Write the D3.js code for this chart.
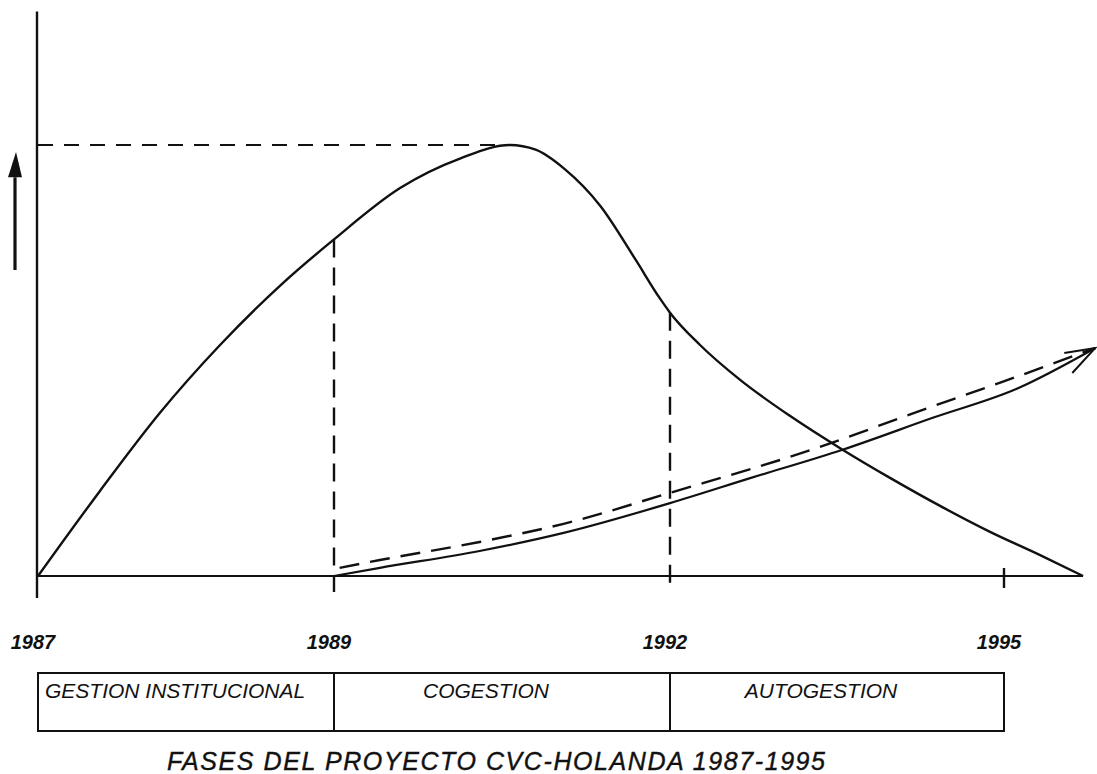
<!DOCTYPE html>
<html>
<head>
<meta charset="utf-8">
<script src="https://cdn.jsdelivr.net/npm/d3@7"></script>
<style>
  body { margin: 0; background: #fff; }
  svg { display: block; }
  text { font-family: "Liberation Sans", Arial, sans-serif; font-style: italic; fill: #111; }
</style>
</head>
<body>
<div class="chart_frame"></div>
<script>
// axis ticks (years)
var tick_years = [1987, 1989, 1992, 1995];
var tick_labels = ['1987', '1989', '1992', '1995'];

// phases under the axis
var phase_names = ['GESTION INSTITUCIONAL', 'COGESTION', 'AUTOGESTION'];
var phase_start = [1987, 1989, 1992];
var phase_end = [1989, 1992, 1995];

// main curve: institutional support (year, relative level)
var support_year = [1987.00, 1987.42, 1987.82, 1988.23, 1988.64, 1989.00, 1989.59, 1990.13, 1990.57,
                    1990.80, 1991.06, 1991.38, 1991.69, 1991.91, 1992.00, 1992.27, 1992.63, 1993.08,
                    1993.55, 1993.98, 1994.43, 1994.87, 1995.32, 1995.71];
var support_value = [0, 19.8, 37.7, 53.6, 67.5, 78.1, 90.0, 96.9, 100,
                     98.9, 94.4, 85.8, 73.5, 64.4, 61.1, 53.6, 45.5, 37.1,
                     29.3, 22.7, 16.2, 10.3, 4.9, 0];

// rising solid line: community participation
var community_year = [1989.00, 1989.41, 1990.30, 1991.05, 1992.00, 1992.72, 1993.55, 1994.36, 1995.12, 1995.82];
var community_value = [0, 1.9, 5.8, 10.0, 16.9, 22.7, 29.3, 36.7, 43.5, 52.9];

// rising dashed line
var expected_year = [1989.05, 1989.41, 1990.30, 1991.05, 1992.00, 1993.32, 1994.22, 1994.96, 1995.82];
var expected_value = [1.9, 3.7, 7.9, 12.1, 19.3, 29.7, 38.1, 44.8, 52.9];

var title_text = 'FASES DEL PROYECTO CVC-HOLANDA 1987-1995';

function plot() {
    var width = 1097, height = 774;

    var svg = d3.select('.chart_frame').append('svg')
        .attr('width', width)
        .attr('height', height);

    // years are not evenly spaced in the drawing
    var x = d3.scaleLinear()
        .domain(tick_years)
        .range([38, 334, 670, 1004]);
    var y = d3.scaleLinear()
        .domain([0, 100])
        .range([576, 145]);

    var ink = '#111';

    function zip(xs, ys) {
        return xs.map(function(d, i) { return [d, ys[i]]; });
    }
    var support = zip(support_year, support_value),
        community = zip(community_year, community_value),
        expected = zip(expected_year, expected_value);

    var line = d3.line()
        .x(function(d) { return x(d[0]); })
        .y(function(d) { return y(d[1]); })
        .curve(d3.curveMonotoneX);

    // axes
    var axis = svg.append('g').attr('class', 'axis');
    axis.append('line')
        .attr('x1', x(1987) - 1).attr('x2', x(1987) - 1)
        .attr('y1', y(131)).attr('y2', y(0) + 22)
        .attr('stroke', ink).attr('stroke-width', 2.4);
    axis.append('line')
        .attr('x1', x(1987)).attr('x2', x(1995.71))
        .attr('y1', y(0)).attr('y2', y(0))
        .attr('stroke', ink).attr('stroke-width', 2.2);
    axis.append('line')
        .attr('x1', x(1995)).attr('x2', x(1995))
        .attr('y1', y(0) - 8).attr('y2', y(0) + 12)
        .attr('stroke', ink).attr('stroke-width', 2.4);

    // arrow left of the axis
    axis.append('line')
        .attr('x1', 15).attr('x2', 15)
        .attr('y1', y(71)).attr('y2', y(92.5))
        .attr('stroke', ink).attr('stroke-width', 3.2);
    axis.append('path')
        .attr('d', 'M' + 16 + ',' + y(98.4) + 'L' + 8 + ',' + y(92.5) + 'L' + 22 + ',' + y(92.5) + 'Z')
        .attr('fill', ink);

    // peak guide
    var peak = support[d3.maxIndex(support, function(d) { return d[1]; })];
    svg.append('line')
        .attr('x1', x(1987)).attr('x2', x(peak[0]))
        .attr('y1', y(peak[1])).attr('y2', y(peak[1]))
        .attr('stroke', ink).attr('stroke-width', 2.2)
        .attr('stroke-dasharray', '15,11');

    // phase limits as dashed verticals from the curve
    function support_at(year) {
        for (var i = 0; i < support.length; i++) {
            if (Math.abs(support[i][0] - year) < 0.02) return support[i][1];
        }
        return 0;
    }
    [1989, 1992].forEach(function(yr) {
        svg.append('line')
            .attr('x1', x(yr)).attr('x2', x(yr))
            .attr('y1', y(support_at(yr))).attr('y2', y(0) + 16)
            .attr('stroke', ink).attr('stroke-width', 2.4)
            .attr('stroke-dasharray', '18,10');
    });

    // curves
    svg.append('path')
        .attr('d', line(support))
        .attr('fill', 'none').attr('stroke', ink).attr('stroke-width', 2.4);
    svg.append('path')
        .attr('d', line(community))
        .attr('fill', 'none').attr('stroke', ink).attr('stroke-width', 2.2);
    svg.append('path')
        .attr('d', line(expected))
        .attr('fill', 'none').attr('stroke', ink).attr('stroke-width', 2.4)
        .attr('stroke-dasharray', '20,11');

    // open arrow head at the end of the rising lines
    var tip = community[community.length - 1];
    var tx = x(tip[0]), ty = y(tip[1]);
    svg.append('path')
        .attr('d', 'M' + (tx - 31) + ',' + (ty + 5) + 'L' + tx + ',' + ty + 'L' + (tx - 23) + ',' + (ty + 25))
        .attr('fill', 'none').attr('stroke', ink).attr('stroke-width', 2);

    // year labels
    svg.append('g').attr('class', 'years')
        .selectAll('text')
        .data(tick_years)
        .enter().append('text')
        .attr('x', function(d) { return x(d) - 5; })
        .attr('y', 649)
        .attr('text-anchor', 'middle')
        .attr('font-size', 20)
        .attr('font-weight', 'bold')
        .text(function(d, i) { return tick_labels[i]; });

    // phase boxes
    var boxTop = 673, boxBottom = 731;
    var phases = svg.append('g').attr('class', 'phases');
    phases.selectAll('rect')
        .data(phase_names)
        .enter().append('rect')
        .attr('x', function(d, i) { return x(phase_start[i]); })
        .attr('y', boxTop)
        .attr('width', function(d, i) { return x(phase_end[i]) - x(phase_start[i]); })
        .attr('height', boxBottom - boxTop)
        .attr('fill', 'none').attr('stroke', ink).attr('stroke-width', 2);
    phases.selectAll('text')
        .data(phase_names)
        .enter().append('text')
        .attr('x', function(d, i) {
            return i == 0 ? x(phase_start[i]) + 7 : (x(phase_start[i]) + x(phase_end[i])) / 2 - 16;
        })
        .attr('y', 698)
        .attr('text-anchor', function(d, i) { return i == 0 ? 'start' : 'middle'; })
        .attr('font-size', 21)
        .text(function(d) { return d; });

    // title
    svg.append('text')
        .attr('x', 167)
        .attr('y', 770)
        .attr('font-size', 25)
        .attr('textLength', 658)
        .attr('lengthAdjust', 'spacing')
        .attr('stroke', ink).attr('stroke-width', 0.4)
        .text(title_text);
}

plot();
</script>
</body>
</html>
